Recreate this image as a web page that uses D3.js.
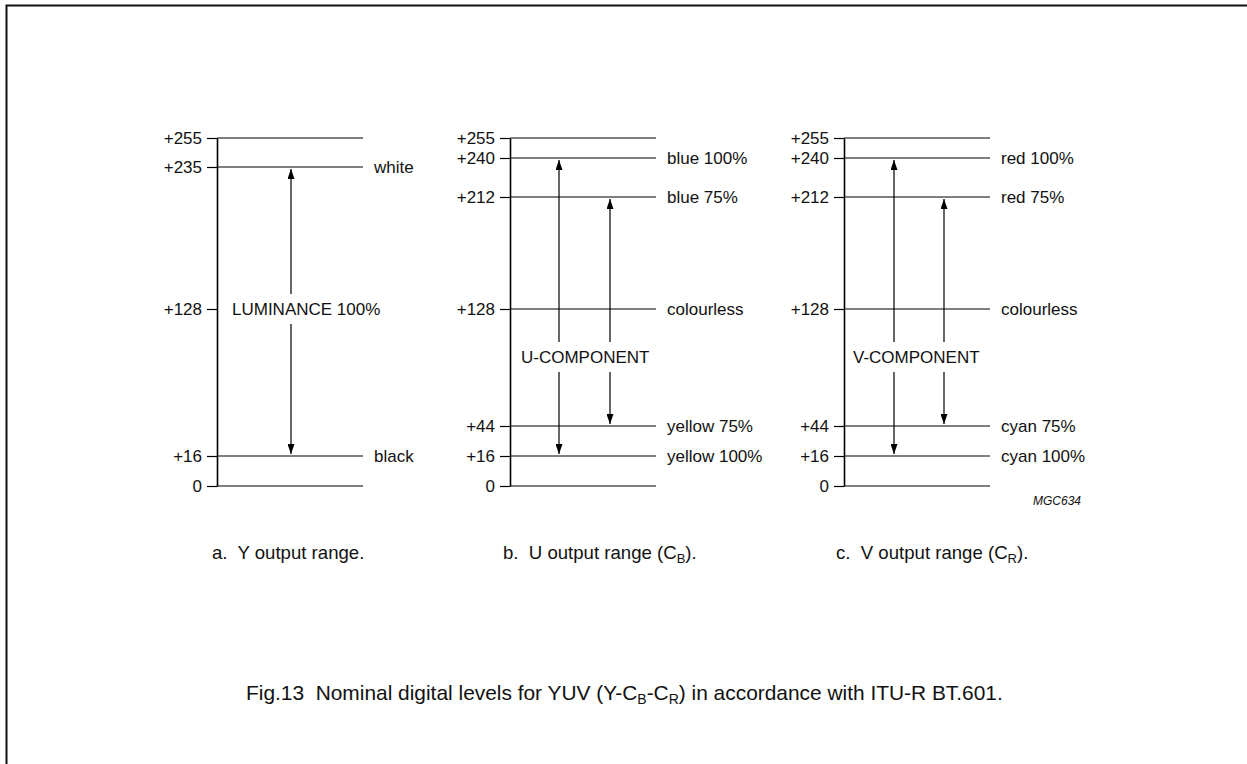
<!DOCTYPE html>
<html>
<head>
<meta charset="utf-8">
<script src="https://cdn.jsdelivr.net/npm/d3@7"></script>
<style>
  html, body { margin: 0; padding: 0; background: #fff; }
  svg { display: block; }
  text { font-family: "Liberation Sans", Arial, Helvetica, sans-serif; fill: #111; white-space: pre; }
</style>
</head>
<body>
<svg id="chart" width="1247" height="764"></svg>
<script>
// ---------------- data ----------------
const panelIds = ["a", "b", "c"];
const yLevels = [255, 235, 128, 16, 0];
const yNames  = ["", "white", "", "black", ""];
const yHasLine = [true, true, false, true, true];
const uLevels = [255, 240, 212, 128, 44, 16, 0];
const uNames  = ["", "blue 100%", "blue 75%", "colourless", "yellow 75%", "yellow 100%", ""];
const uHasLine = [true, true, true, true, true, true, true];
const vLevels = [255, 240, 212, 128, 44, 16, 0];
const vNames  = ["", "red 100%", "red 75%", "colourless", "cyan 75%", "cyan 100%", ""];
const vHasLine = [true, true, true, true, true, true, true];
const yArrows = [[16, 235]];
const uArrows = [[16, 240], [44, 212]];
const vArrows = [[16, 240], [44, 212]];
const componentNames = ["LUMINANCE 100%", "U-COMPONENT", "V-COMPONENT"];
const captionPrefix = ["a.  Y output range", "b.  U output range (C", "c.  V output range (C"];
const captionSub = ["", "B", "R"];
const captionSuffix = [".", ").", ")."];
const figureCode = "MGC634";
const titleParts = [
  {t: "Fig.13  Nominal digital levels for YUV (Y-C", sub: false},
  {t: "B", sub: true},
  {t: "-C", sub: false},
  {t: "R", sub: true},
  {t: ") in accordance with ITU-R BT.601.", sub: false}
];

const panels = [
  {levels: yLevels, names: yNames, lines: yHasLine, arrows: yArrows, comp: componentNames[0]},
  {levels: uLevels, names: uNames, lines: uHasLine, arrows: uArrows, comp: componentNames[1]},
  {levels: vLevels, names: vNames, lines: vHasLine, arrows: vArrows, comp: componentNames[2]}
];

// ---------------- layout ----------------
const svg = d3.select("#chart");
const FS = 17;
const CAP_FS = 18.6;
const TITLE_FS = 20.9;
// schematic (not-to-scale) level axis, piecewise linear as in the original drawing
const y = d3.scaleLinear()
  .domain([0, 16, 44, 128, 212, 235, 240, 255])
  .range([486, 456, 426, 309, 197, 167, 158, 138]);
const xPanel = d3.scaleOrdinal().domain(panelIds).range([217, 510, 844]);
const lineLen = 146;
const nameGap = 157;
const arrowOffsets = [[74], [49, 100], [50, 100]];
const compX = [15, 11, 9];
const compLevelShift = [0, 48, 48];   // px below the +128 line
const gapHalf = 15;
const capX = [212, 503, 836];

// frame
svg.append("rect")
  .attr("x", 6.5).attr("y", 5.5)
  .attr("width", 1400).attr("height", 900)
  .attr("fill", "none").attr("stroke", "#111").attr("stroke-width", 2);

// arrow markers
const defs = svg.append("defs");
defs.append("marker")
  .attr("id", "ah").attr("viewBox", "0 0 10 7")
  .attr("refX", 10).attr("refY", 3.5)
  .attr("markerUnits", "userSpaceOnUse")
  .attr("markerWidth", 10).attr("markerHeight", 7)
  .attr("orient", "auto")
  .append("path").attr("d", "M0,0 L10,3.5 L0,7 Z").attr("fill", "#000");

panels.forEach((p, i) => {
  const x0 = xPanel(panelIds[i]);
  const g = svg.append("g");

  // axis with left ticks
  const axis = d3.axisLeft(y)
    .tickValues(p.levels)
    .tickSizeInner(10).tickSizeOuter(0).tickPadding(5)
    .tickFormat(d => d === 0 ? "0" : "+" + d);
  const ax = g.append("g").attr("transform", `translate(${x0},0)`).call(axis);
  ax.select(".domain").attr("stroke", "#000").attr("stroke-width", 1.6);
  ax.selectAll(".tick line").attr("stroke", "#000").attr("stroke-width", 1.2);
  ax.selectAll(".tick text")
    .attr("font-size", FS).attr("font-family", "Liberation Sans, Arial, sans-serif")
    .attr("fill", "#111");

  // level lines to the right
  g.selectAll("line.level").data(p.levels.filter((d, k) => p.lines[k])).enter().append("line")
    .attr("x1", x0).attr("x2", x0 + lineLen)
    .attr("y1", d => y(d)).attr("y2", d => y(d))
    .attr("stroke", "#000").attr("stroke-width", 1.2);

  // level names
  g.selectAll("text.name").data(p.levels).enter().append("text")
    .attr("x", x0 + nameGap).attr("y", d => y(d))
    .attr("dy", "0.35em").attr("font-size", FS)
    .text((d, k) => p.names[k]);

  // component label
  const ly = y(128) + compLevelShift[i];
  g.append("text")
    .attr("x", x0 + compX[i]).attr("y", ly).attr("dy", "0.35em")
    .attr("font-size", FS).text(p.comp);

  // double-ended arrows with a gap for the label
  p.arrows.forEach((a, k) => {
    const ax0 = x0 + arrowOffsets[i][k];
    const yTop = y(a[1]) + 2, yBot = y(a[0]) - 2;
    g.append("line").attr("x1", ax0).attr("x2", ax0)
      .attr("y1", ly - gapHalf).attr("y2", yTop)
      .attr("stroke", "#000").attr("stroke-width", 1.2)
      .attr("marker-end", "url(#ah)");
    g.append("line").attr("x1", ax0).attr("x2", ax0)
      .attr("y1", ly + gapHalf).attr("y2", yBot)
      .attr("stroke", "#000").attr("stroke-width", 1.2)
      .attr("marker-end", "url(#ah)");
  });

  // caption under panel
  const cap = svg.append("text").attr("x", capX[i]).attr("y", 559).attr("font-size", CAP_FS);
  cap.append("tspan").text(captionPrefix[i]);
  if (captionSub[i]) {
    cap.append("tspan").attr("font-size", 13).attr("dy", 4).text(captionSub[i]);
    cap.append("tspan").attr("dy", -4).text(captionSuffix[i]);
  } else {
    cap.append("tspan").text(captionSuffix[i]);
  }
});

// figure code
svg.append("text")
  .attr("x", 1057).attr("y", 505).attr("text-anchor", "middle")
  .attr("font-size", 12).attr("font-style", "italic").text(figureCode);

// figure title
const title = svg.append("text").attr("x", 246).attr("y", 700).attr("font-size", TITLE_FS);
titleParts.forEach((tp, k) => {
  const prevSub = k > 0 && titleParts[k - 1].sub;
  const ts = title.append("tspan").text(tp.t);
  if (tp.sub) ts.attr("font-size", 14).attr("dy", 4);
  else if (prevSub) ts.attr("dy", -4);
});
</script>
</body>
</html>
